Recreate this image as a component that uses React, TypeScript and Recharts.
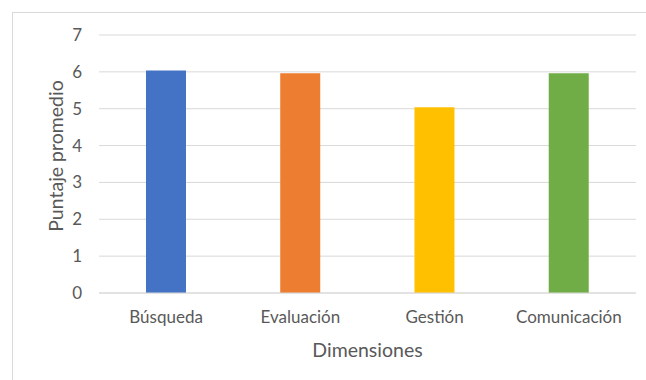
import { BarChart, Bar, Cell, XAxis, YAxis, CartesianGrid, Label } from "recharts";

const dimensions = ["Búsqueda", "Evaluación", "Gestión", "Comunicación"];
const averageScores = [6.04, 5.96, 5.04, 5.96];
const yTicks = [0, 1, 2, 3, 4, 5, 6, 7];

const barColors = ["#4472C4", "#ED7D31", "#FFC000", "#70AD47"];
const textColor = "#595959";
const font = "Lato, sans-serif";

const chartData = dimensions.map((name, i) => ({ name, value: averageScores[i] }));

// rotated axis title, nudged a little above the plot's middle like the original
function YTitle(props: any) {
  const vb = props.viewBox || {};
  const x = 55;
  const y = (vb.y ?? 35) + (vb.height ?? 258) / 2 - 8;
  return (
    <text
      x={x}
      y={y}
      transform={`rotate(-90 ${x} ${y})`}
      textAnchor="middle"
      dominantBaseline="central"
      fill={textColor}
      fontSize={19.5}
      fontFamily={font}
    >
      Puntaje promedio
    </text>
  );
}

export default function App() {
  return (
    <div style={{ position: "absolute", left: 0, top: 0, width: 646, height: 380, background: "#fff", overflow: "hidden" }}>
      <div
        style={{
          position: "absolute",
          left: 12,
          top: 12,
          width: 640,
          height: 400,
          border: "1px solid #d9d9d9",
          boxSizing: "border-box",
        }}
      />
      <div style={{ position: "absolute", left: 0, top: 0 }}>
        <BarChart
          width={646}
          height={380}
          data={chartData}
          margin={{ top: 35, right: 10, left: 0, bottom: 37 }}
          barCategoryGap="35%"
        >
          <CartesianGrid vertical={false} stroke="#d9d9d9" />
          <XAxis
            dataKey="name"
            height={50}
            axisLine={{ stroke: "#d9d9d9" }}
            tickLine={false}
            tickSize={0}
            tickMargin={18}
            tick={{ fill: textColor, fontSize: 17, fontFamily: font }}
            label={{
              value: "Dimensiones",
              position: "insideBottom",
              offset: -14,
              fill: textColor,
              fontSize: 19.5,
              fontFamily: font,
            }}
          />
          <YAxis
            width={99}
            domain={[0, 7]}
            ticks={yTicks}
            axisLine={false}
            tickLine={false}
            tickSize={0}
            tickMargin={17}
            tick={{ fill: textColor, fontSize: 17, fontFamily: font }}
          >
            <Label content={<YTitle />} />
          </YAxis>
          <Bar dataKey="value" isAnimationActive={false}>
            {chartData.map((entry, index) => (
              <Cell key={`cell-${index}`} fill={barColors[index]} />
            ))}
          </Bar>
        </BarChart>
      </div>
    </div>
  );
}
